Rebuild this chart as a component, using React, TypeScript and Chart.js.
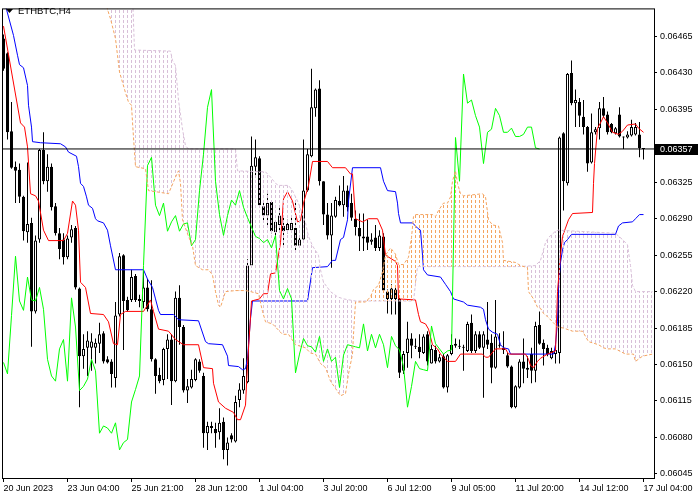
import React, { useEffect, useRef } from 'react';
import { Chart, registerables } from 'chart.js';
Chart.register(...registerables);

const symbolTitle = 'ETHBTC,H4';
const xTickIndex = [0, 16, 32, 48, 64, 80, 96, 112, 128, 144, 160];
const xTickLabels = ['20 Jun 2023', '23 Jun 04:00', '25 Jun 21:00', '28 Jun 12:00', '1 Jul 04:00', '3 Jul 20:00', '6 Jul 12:00', '9 Jul 05:00', '11 Jul 20:00', '14 Jul 12:00', '17 Jul 04:00'];
const yTickValues = [0.06045, 0.0608, 0.06115, 0.0615, 0.06185, 0.0622, 0.06255, 0.0629, 0.06325, 0.0636, 0.06395, 0.0643, 0.06465];
const hiddenTickLabel = 0.0636;
const currentPrice = 0.06357;
const chikouShift = 26;

const opens = [
  0.06463, 0.06449, 0.06374, 0.0634, 0.06337, 0.06311, 0.06277, 0.06286, 0.06201, 0.0627,
  0.06356, 0.06326, 0.0634, 0.06302, 0.06276, 0.0627, 0.06253, 0.06272, 0.06281, 0.06223,
  0.06158, 0.06166, 0.06166, 0.06166, 0.0617, 0.0618, 0.06155, 0.06153, 0.06137, 0.06198,
  0.06255, 0.06212, 0.06212, 0.06235, 0.06213, 0.0621, 0.06224, 0.06203, 0.06155, 0.0614,
  0.06135, 0.06165, 0.06174, 0.06134, 0.06214, 0.06186, 0.06125, 0.06128, 0.06135, 0.06153,
  0.06139, 0.06084, 0.06091, 0.06088, 0.06085, 0.06095, 0.06068, 0.06082, 0.06076, 0.06116,
  0.06125, 0.06133, 0.06245, 0.0634, 0.06348, 0.06302, 0.06293, 0.06306, 0.06277, 0.06284,
  0.06283, 0.06279, 0.06279, 0.06281, 0.06264, 0.0627, 0.06317, 0.0635, 0.06396, 0.06415,
  0.06326, 0.06294, 0.06274, 0.06292, 0.06307, 0.06303, 0.06317, 0.06305, 0.0629, 0.06281,
  0.06273, 0.06273, 0.06268, 0.06272, 0.06262, 0.06273, 0.0622, 0.06213, 0.06222, 0.06213,
  0.06144, 0.06161, 0.06175, 0.06168, 0.06167, 0.06161, 0.06179, 0.06151, 0.06164, 0.06153,
  0.06158, 0.06128, 0.0616, 0.0617, 0.06168, 0.06167, 0.06163, 0.0619, 0.06163, 0.06179,
  0.06166, 0.06174, 0.06171, 0.06147, 0.06169, 0.06166, 0.06159, 0.06148, 0.06109, 0.06128,
  0.06153, 0.06147, 0.0616, 0.06144, 0.06188, 0.06171, 0.06166, 0.06156, 0.0616, 0.06161,
  0.06372, 0.06324, 0.0643, 0.06401, 0.06402, 0.06388, 0.06378, 0.06344, 0.06373, 0.06377,
  0.06396, 0.0639, 0.06381, 0.06372, 0.0639, 0.06368, 0.06368, 0.0637, 0.06371, 0.06371,
  0.06358,
];
const highs = [
  0.06467, 0.0645, 0.06402, 0.06345, 0.06343, 0.06312, 0.06344, 0.06291, 0.06274, 0.06357,
  0.06373, 0.06352, 0.06343, 0.06305, 0.06281, 0.06276, 0.06274, 0.06284, 0.06283, 0.06224,
  0.06179, 0.06182, 0.0618, 0.06175, 0.0619, 0.06182, 0.06158, 0.06155, 0.0621, 0.06257,
  0.06256, 0.06215, 0.06241, 0.06237, 0.06217, 0.06241, 0.06232, 0.06231, 0.06156, 0.06147,
  0.06166, 0.06179, 0.06179, 0.0622, 0.06226, 0.06188, 0.06136, 0.06145, 0.06156, 0.06155,
  0.06142, 0.06095, 0.06095, 0.06094, 0.06108, 0.06099, 0.0608, 0.06084, 0.0612, 0.06132,
  0.06156, 0.06251, 0.06369, 0.06366, 0.0635, 0.06308, 0.06314, 0.06307, 0.06288, 0.06302,
  0.06292, 0.06289, 0.06292, 0.06307, 0.06272, 0.06366, 0.06357, 0.06434, 0.06415, 0.06423,
  0.06326, 0.06305, 0.06305, 0.06311, 0.06322, 0.06331, 0.06322, 0.06314, 0.06298, 0.06295,
  0.06295, 0.06289, 0.06276, 0.06284, 0.06279, 0.06276, 0.06222, 0.06227, 0.06226, 0.06215,
  0.06163, 0.06191, 0.0618, 0.06175, 0.06179, 0.06179, 0.06182, 0.06169, 0.06168, 0.0616,
  0.0616, 0.0616, 0.06179, 0.06175, 0.06174, 0.06169, 0.06191, 0.06198, 0.06182, 0.06182,
  0.06182, 0.0621, 0.06179, 0.06212, 0.0618, 0.06182, 0.06161, 0.06149, 0.0613, 0.06155,
  0.06175, 0.06158, 0.06166, 0.06191, 0.06201, 0.06174, 0.06169, 0.06166, 0.06169, 0.06369,
  0.06373, 0.0643, 0.06442, 0.06414, 0.06406, 0.06404, 0.06379, 0.06391, 0.06378, 0.06402,
  0.06407, 0.06393, 0.06382, 0.06378, 0.06397, 0.06369, 0.06374, 0.06385, 0.06382, 0.06383,
  0.06358,
];
const lows = [
  0.06432, 0.06366, 0.06338, 0.06305, 0.06305, 0.06269, 0.06267, 0.06167, 0.06199, 0.06267,
  0.06323, 0.06316, 0.06298, 0.06274, 0.06251, 0.06246, 0.06251, 0.06267, 0.06222, 0.06109,
  0.06146, 0.06139, 0.06144, 0.06151, 0.06161, 0.06151, 0.06151, 0.06128, 0.06128, 0.06196,
  0.06164, 0.06201, 0.0621, 0.0621, 0.06205, 0.06204, 0.06201, 0.06153, 0.06122, 0.06132,
  0.0613, 0.06136, 0.06111, 0.06133, 0.06169, 0.06123, 0.06113, 0.06127, 0.06134, 0.06142,
  0.0607, 0.06068, 0.06084, 0.0607, 0.06078, 0.06059, 0.06053, 0.06075, 0.06075, 0.06109,
  0.06122, 0.06132, 0.06245, 0.0633, 0.06302, 0.06286, 0.06284, 0.06276, 0.06274, 0.06279,
  0.06264, 0.06276, 0.06278, 0.06257, 0.06262, 0.0627, 0.06316, 0.06349, 0.06388, 0.06322,
  0.06284, 0.0627, 0.06243, 0.06291, 0.06302, 0.06292, 0.06297, 0.06288, 0.06274, 0.06259,
  0.06259, 0.0626, 0.06265, 0.06259, 0.06259, 0.0622, 0.06199, 0.06198, 0.06198, 0.06137,
  0.06141, 0.06147, 0.06156, 0.06165, 0.06156, 0.0616, 0.06149, 0.06151, 0.06151, 0.06152,
  0.06127, 0.06123, 0.06159, 0.06166, 0.06165, 0.06144, 0.06162, 0.06161, 0.06161, 0.06165,
  0.06118, 0.06165, 0.06132, 0.06146, 0.06166, 0.0616, 0.06147, 0.06108, 0.06108, 0.06127,
  0.06132, 0.06137, 0.06132, 0.06133, 0.06169, 0.06149, 0.06158, 0.06155, 0.06151, 0.06151,
  0.06298, 0.06322, 0.06399, 0.06378, 0.06378, 0.06371, 0.06335, 0.06343, 0.06371, 0.06366,
  0.06387, 0.06371, 0.06372, 0.06371, 0.06368, 0.06357, 0.06367, 0.06369, 0.0637, 0.06349,
  0.06347,
];
const closes = [
  0.06434, 0.06373, 0.06339, 0.06336, 0.06311, 0.06278, 0.06285, 0.06201, 0.06269, 0.06356,
  0.06326, 0.0634, 0.06301, 0.06276, 0.06261, 0.06253, 0.06271, 0.0628, 0.06224, 0.06158,
  0.06165, 0.06173, 0.06172, 0.06171, 0.06179, 0.06153, 0.06152, 0.06141, 0.06197, 0.06254,
  0.06211, 0.06202, 0.06234, 0.06212, 0.06211, 0.06224, 0.06203, 0.06155, 0.06139, 0.06134,
  0.06165, 0.06174, 0.06134, 0.06214, 0.06186, 0.06125, 0.06129, 0.06136, 0.06155, 0.06144,
  0.06084, 0.06091, 0.06089, 0.06084, 0.06094, 0.06068, 0.06075, 0.06078, 0.06114, 0.06126,
  0.06139, 0.06245, 0.06341, 0.06349, 0.06303, 0.06293, 0.06305, 0.06278, 0.06287, 0.06293,
  0.06278, 0.06285, 0.06286, 0.06264, 0.0627, 0.06317, 0.06352, 0.06397, 0.06414, 0.06326,
  0.06294, 0.06274, 0.06293, 0.06308, 0.06303, 0.06317, 0.06301, 0.06291, 0.06282, 0.06273,
  0.06271, 0.06267, 0.0627, 0.06262, 0.06274, 0.06221, 0.06213, 0.06223, 0.06213, 0.06142,
  0.0616, 0.06175, 0.06168, 0.06167, 0.06162, 0.06177, 0.06153, 0.06165, 0.06153, 0.06157,
  0.06128, 0.06159, 0.06169, 0.06168, 0.06167, 0.06166, 0.06189, 0.06163, 0.06179, 0.06166,
  0.06179, 0.06169, 0.06147, 0.06177, 0.06168, 0.06164, 0.06148, 0.06109, 0.06129, 0.06153,
  0.06146, 0.06145, 0.06144, 0.06187, 0.0617, 0.06165, 0.0616, 0.06163, 0.06164, 0.06368,
  0.06326, 0.06429, 0.06401, 0.06404, 0.06389, 0.06378, 0.06343, 0.06373, 0.06376, 0.06396,
  0.06389, 0.06373, 0.06373, 0.06377, 0.06369, 0.06369, 0.06371, 0.06378, 0.06378, 0.06358,
  0.06357,
];

// [bar index, price] breakpoints
const tenkan: [number, number][] = [
  [0, 0.06475], [4.25, 0.06382], [5.25, 0.06378], [6, 0.06359], [6.75, 0.06314], [8, 0.06312], [8.75, 0.06307],
  [10, 0.06279], [11.25, 0.06269], [15, 0.06269], [16, 0.06276], [17.25, 0.06307], [18, 0.06303], [18.75, 0.06279],
  [19.25, 0.06229], [20.5, 0.06224], [21.75, 0.06199], [25, 0.06198], [26.25, 0.06191], [27.5, 0.0617], [28.5, 0.06169],
  [29.25, 0.06198], [30.5, 0.06201], [35, 0.06201], [36, 0.06207], [36.75, 0.06212], [37.5, 0.06201], [38.75, 0.06184],
  [41.25, 0.06182], [43, 0.06174], [45, 0.06169], [48.75, 0.06169], [50, 0.06147], [52.25, 0.06146], [52.5, 0.06132],
  [53.75, 0.06114], [55.5, 0.06108], [57.5, 0.06104], [58.5, 0.06097], [59.25, 0.06097], [60.5, 0.06111], [61, 0.0615],
  [62, 0.06211], [64, 0.06213], [65, 0.06218], [66, 0.06218], [66.75, 0.06237], [68, 0.06238], [69.25, 0.06267],
  [70, 0.06309], [71, 0.06316], [72.25, 0.06307], [73.5, 0.06287], [74.25, 0.06288], [75, 0.06305], [76.25, 0.06322],
  [77.25, 0.06345], [81, 0.06345], [82.25, 0.06339], [85.5, 0.06339], [86.75, 0.06333], [87.25, 0.06333], [88, 0.0629],
  [89.75, 0.06287], [91.25, 0.0629], [93.5, 0.0629], [94.75, 0.06279], [95.5, 0.06255], [98, 0.06249], [98.5, 0.06245],
  [98.75, 0.06213], [103, 0.06212], [103.75, 0.06198], [104.25, 0.06191], [105.5, 0.06189], [106.25, 0.06184],
  [107.25, 0.06169], [108.5, 0.06165], [109.25, 0.0616], [111, 0.06153], [113, 0.06153], [114.25, 0.0616],
  [119.75, 0.0616], [120.5, 0.06157], [121.25, 0.06157], [123, 0.06165], [125.5, 0.06165], [126.25, 0.0616],
  [130.5, 0.0616], [131.25, 0.06155], [131.75, 0.06149], [132.5, 0.06147], [133.5, 0.06153], [134.25, 0.06156],
  [136, 0.0616], [138, 0.06163], [138.5, 0.0622], [139.25, 0.06255], [139.75, 0.06273], [140.5, 0.06281],
  [141.25, 0.06289], [142.25, 0.06295], [147.25, 0.06296], [147.5, 0.06324], [147.75, 0.06343], [148.5, 0.06377],
  [149.25, 0.06382], [150, 0.06388], [151, 0.06382], [152.25, 0.06373], [153.75, 0.06371], [154.75, 0.06374],
  [156, 0.0638], [158, 0.06381], [158.75, 0.06377], [160, 0.06373],
];
const kijun: [number, number][] = [
  [0, 0.065], [0.75, 0.06491], [2.5, 0.06466], [3.5, 0.06447], [4, 0.06438], [5, 0.06435], [6, 0.06418], [6.25, 0.06399],
  [7, 0.06378], [7.25, 0.06364], [9.25, 0.06363], [14.25, 0.06362], [15.5, 0.06359], [16.25, 0.06354], [18.25, 0.0635],
  [18.75, 0.0634], [19.25, 0.06324], [20, 0.06321], [20.75, 0.06311], [21.25, 0.06303], [22.25, 0.063], [23, 0.0629],
  [23.5, 0.06288], [25, 0.06286], [26, 0.06279], [26.75, 0.06264], [28, 0.06241], [35, 0.06241], [36, 0.06232],
  [37.25, 0.06224], [38, 0.06213], [38.75, 0.06202], [39.25, 0.06198], [42.5, 0.06198], [43.75, 0.06193],
  [48.75, 0.06192], [50.5, 0.06172], [51.25, 0.0617], [54.75, 0.06169], [56, 0.06158], [56.25, 0.06149],
  [58.75, 0.06148], [59.75, 0.06145], [60.5, 0.06146], [61, 0.06156], [61.75, 0.06194], [62.25, 0.06211],
  [76, 0.06211], [77.25, 0.06243], [81, 0.06244], [82.25, 0.0625], [83, 0.0625], [84.25, 0.0627], [85, 0.06272],
  [86, 0.06289], [86.25, 0.06307], [87.25, 0.06339], [94.25, 0.06339], [95, 0.06326], [96, 0.06317], [98, 0.06316],
  [98.5, 0.06305], [98.75, 0.06295], [99.25, 0.06286], [102.25, 0.06286], [103.5, 0.06281], [104.25, 0.06279],
  [104.75, 0.06255], [105, 0.06241], [106, 0.06236], [109.25, 0.06234], [110.5, 0.06227], [111.75, 0.0622],
  [112.5, 0.06213], [115, 0.0621], [116, 0.06207], [119.25, 0.06205], [120, 0.06203], [120.5, 0.06193],
  [121.25, 0.06184], [122.25, 0.06181], [123.5, 0.06179], [124.25, 0.06169], [125, 0.06166], [126.25, 0.06165],
  [126.75, 0.0616], [137.5, 0.0616], [138, 0.06169], [138.5, 0.06191], [138.75, 0.06226], [139.25, 0.06248],
  [139.75, 0.0626], [140.25, 0.06267], [141, 0.0627], [142, 0.06275], [153, 0.06275], [153.75, 0.06283],
  [154.75, 0.06286], [157.25, 0.06287], [158, 0.0629], [159, 0.06294], [160, 0.06294],
];
const senkouA: [number, number][] = [
  [25, 0.06508], [26, 0.06491], [26.75, 0.06482], [28, 0.06463], [28.5, 0.06447], [29, 0.06431], [29.75, 0.06421],
  [30.5, 0.06411], [31.25, 0.06402], [32, 0.06399], [32.25, 0.06383], [32.5, 0.06368], [33, 0.0634], [35.5, 0.06338],
  [36.25, 0.06317], [38, 0.06316], [41.25, 0.06314], [43, 0.0633], [43.75, 0.06336], [44.25, 0.06324], [44.75, 0.06289],
  [46.25, 0.06273], [47.25, 0.06264], [48, 0.06245], [49.75, 0.06241], [51.25, 0.06241], [52.25, 0.06236], [53, 0.0622],
  [53.75, 0.06207], [54.25, 0.06205], [55.5, 0.0622], [58, 0.06221], [60.5, 0.06221], [61.75, 0.0622], [63.75, 0.06218],
  [64.75, 0.06201], [65.5, 0.06191], [67.25, 0.06189], [68.5, 0.06184], [69.75, 0.06179], [71.25, 0.06179],
  [73, 0.06169], [75.5, 0.06166], [76.75, 0.06161], [78, 0.0616], [79.25, 0.06151], [80.5, 0.06147], [81.75, 0.06134],
  [83, 0.06127], [84.25, 0.0612], [85.5, 0.06122], [86.25, 0.06141], [87.25, 0.0616], [87.5, 0.06179], [88, 0.0621],
  [90.5, 0.0621], [91.75, 0.06215], [92.5, 0.06222], [93.75, 0.06226], [94.75, 0.06239], [95.5, 0.06255],
  [96.75, 0.06262], [98, 0.06256], [98.75, 0.06246], [100, 0.06246], [101.25, 0.06253], [102, 0.06272],
  [102.5, 0.06292], [103, 0.06294], [107.25, 0.06294], [108, 0.06292], [108.75, 0.06298], [110, 0.06305],
  [111, 0.06305], [111.75, 0.06311], [112.25, 0.06326], [113, 0.06336], [113.5, 0.06324], [114.25, 0.06314],
  [115, 0.06312], [119.75, 0.06314], [120.5, 0.06311], [121.25, 0.06289], [122.25, 0.06284], [123.75, 0.06283],
  [124.75, 0.06267], [125, 0.0625], [128, 0.06248], [129.25, 0.06245], [131, 0.06243], [131.25, 0.0622],
  [132.5, 0.06213], [133.5, 0.06205], [134.25, 0.06204], [135, 0.06199], [136, 0.06196], [137.25, 0.06191],
  [138.5, 0.06186], [140, 0.06185], [142.25, 0.06182], [144.75, 0.06182], [145.5, 0.06177], [146.25, 0.06172],
  [148.75, 0.06169], [150, 0.06166], [151, 0.06165], [153, 0.06165], [155.5, 0.0616], [157.5, 0.0616],
  [158, 0.06153], [159.75, 0.06158], [162.25, 0.0616],
];
const senkouB: [number, number][] = [
  [25, 0.06532], [32, 0.06532], [32.75, 0.06452], [41.75, 0.06451], [42.25, 0.06442], [43, 0.06437], [43.75, 0.06404],
  [44.75, 0.06376], [45.5, 0.0636], [46.25, 0.06357], [58, 0.06357], [58.5, 0.06336], [65.5, 0.06335], [66.75, 0.0633],
  [68, 0.06324], [68.75, 0.06322], [71.25, 0.06322], [72.25, 0.06317], [73.75, 0.06305], [75.5, 0.06286],
  [76.25, 0.06273], [77.25, 0.06264], [78.75, 0.06255], [79.25, 0.06241], [80, 0.06229], [81.75, 0.0622],
  [83.5, 0.06215], [85, 0.06213], [88, 0.06211], [102.5, 0.06211], [103.5, 0.06244], [128.5, 0.06244], [133, 0.06245],
  [134.25, 0.0625], [135.5, 0.06267], [136.25, 0.06272], [138, 0.06278], [138.75, 0.06279], [153, 0.06276],
  [154.75, 0.0627], [156, 0.06265], [156.75, 0.06245], [157.25, 0.06226], [158, 0.0622], [162.25, 0.0622],
];

const toPoints = (arr: [number, number][]) => arr.map(([x, y]) => ({ x, y }));

export default function App() {
  const ref = useRef<HTMLCanvasElement>(null);
  useEffect(() => {
    document.body.style.margin = '0';
    const canvas = ref.current!;
    const ctx = canvas.getContext('2d')!;
    const makeHatch = (color: string) => {
      const c = document.createElement('canvas');
      c.width = 4;
      c.height = 5;
      const g = c.getContext('2d')!;
      g.fillStyle = color;
      g.fillRect(3, 0, 1, 3);
      return ctx.createPattern(c, 'repeat')!;
    };
    const orangeHatch = makeHatch('#F4A460');
    const thistleHatch = makeHatch('#D8BFD8');
    const font = { family: "'Liberation Sans', Arial, sans-serif", size: 9 };

    const framePlugin = {
      id: 'mtFrame',
      afterDraw(chart: any) {
        const c = chart.ctx as CanvasRenderingContext2D;
        const a = chart.chartArea;
        c.save();
        c.strokeStyle = '#000';
        c.lineWidth = 1;
        c.strokeRect(a.left + 0.5, a.top + 0.5, a.right - a.left, a.bottom - a.top);
        c.fillStyle = '#000';
        c.beginPath();
        c.moveTo(6, 9);
        c.lineTo(13, 9);
        c.lineTo(9.5, 13);
        c.closePath();
        c.fill();
        c.font = "9.5px 'Liberation Sans', Arial, sans-serif";
        c.textBaseline = 'middle';
        c.fillText(symbolTitle, 18, 11);
        const py = Math.round(chart.scales.y.getPixelForValue(currentPrice));
        c.fillRect(a.right + 1, py - 5, 43, 11);
        c.fillStyle = '#fff';
        c.font = "9px 'Liberation Sans', Arial, sans-serif";
        c.fillText(currentPrice.toFixed(5), a.right + 6, py + 0.5);
        c.restore();
      },
    };

    const chart = new Chart(canvas, {
      type: 'bar',
      data: {
        datasets: [
          {
            type: 'line',
            data: [{ x: -0.375, y: currentPrice }, { x: 162.625, y: currentPrice }],
            borderColor: '#000',
            borderWidth: 1,
            pointRadius: 0,
            order: 0,
          } as any,
          {
            type: 'line',
            data: toPoints(senkouA),
            borderColor: '#F4A460',
            borderWidth: 1,
            borderDash: [3, 2],
            pointRadius: 0,
            order: 2,
          } as any,
          {
            type: 'line',
            data: toPoints(senkouB),
            borderColor: '#D8BFD8',
            borderWidth: 1,
            borderDash: [3, 2],
            pointRadius: 0,
            fill: { target: 1, above: thistleHatch, below: orangeHatch },
            order: 4,
          } as any,
          {
            type: 'line',
            data: closes.slice(chikouShift).map((y, i) => ({ x: i, y })),
            borderColor: '#00FF00',
            borderWidth: 1,
            pointRadius: 0,
            order: 3,
          } as any,
          {
            type: 'line',
            data: toPoints(tenkan),
            borderColor: '#FF0000',
            borderWidth: 1,
            pointRadius: 0,
            order: 5,
          } as any,
          {
            type: 'line',
            data: toPoints(kijun),
            borderColor: '#0000FF',
            borderWidth: 1,
            pointRadius: 0,
            order: 5,
          } as any,
          {
            type: 'bar',
            data: closes.map((_, i) => ({ x: i, y: [opens[i], closes[i]] })),
            backgroundColor: closes.map((c, i) => (c > opens[i] ? '#FFFFFF' : '#000000')),
            borderColor: '#000',
            borderWidth: 1,
            borderSkipped: false,
            barThickness: 3,
            minBarLength: 1,
            grouped: false,
            inflateAmount: 0,
            order: 10,
          } as any,
          {
            type: 'bar',
            data: closes.map((_, i) => ({ x: i, y: [lows[i], highs[i]] })),
            backgroundColor: '#000',
            borderWidth: 0,
            barThickness: 1,
            minBarLength: 1,
            grouped: false,
            inflateAmount: 0,
            order: 11,
          } as any,
        ],
      },
      options: {
        animation: false,
        responsive: false,
        devicePixelRatio: 1,
        layout: { padding: { left: 2, top: 2, right: 0, bottom: 0 } },
        plugins: { legend: { display: false }, tooltip: { enabled: false } },
        scales: {
          x: {
            type: 'linear',
            position: 'bottom',
            min: -0.375,
            max: 162.625,
            offset: false,
            afterBuildTicks: (s: any) => {
              s.ticks = xTickIndex.map((v) => ({ value: v }));
            },
            afterFit: (s: any) => {
              s.height = 22;
            },
            ticks: {
              autoSkip: false,
              maxRotation: 0,
              minRotation: 0,
              align: 'start',
              padding: 1,
              color: '#000',
              font,
              callback: (_v: any, i: number) => xTickLabels[i],
            },
            grid: { drawOnChartArea: false, drawTicks: true, tickLength: 4, color: '#000', offset: false },
            border: { display: false },
          },
          y: {
            type: 'linear',
            position: 'right',
            min: 0.06041,
            max: 0.06492,
            afterBuildTicks: (s: any) => {
              s.ticks = yTickValues.map((v) => ({ value: v }));
            },
            afterFit: (s: any) => {
              s.width = 46;
            },
            ticks: {
              autoSkip: false,
              padding: 3,
              color: '#000',
              font,
              callback: (v: any) => (Math.abs(Number(v) - hiddenTickLabel) < 1e-9 ? '' : Number(v).toFixed(5)),
            },
            grid: { drawOnChartArea: false, drawTicks: true, tickLength: 3, color: '#000' },
            border: { display: false },
          },
        },
      } as any,
      plugins: [framePlugin],
    });
    return () => chart.destroy();
  }, []);
  return <canvas ref={ref} width={700} height={500} style={{ display: 'block' }} />;
}
